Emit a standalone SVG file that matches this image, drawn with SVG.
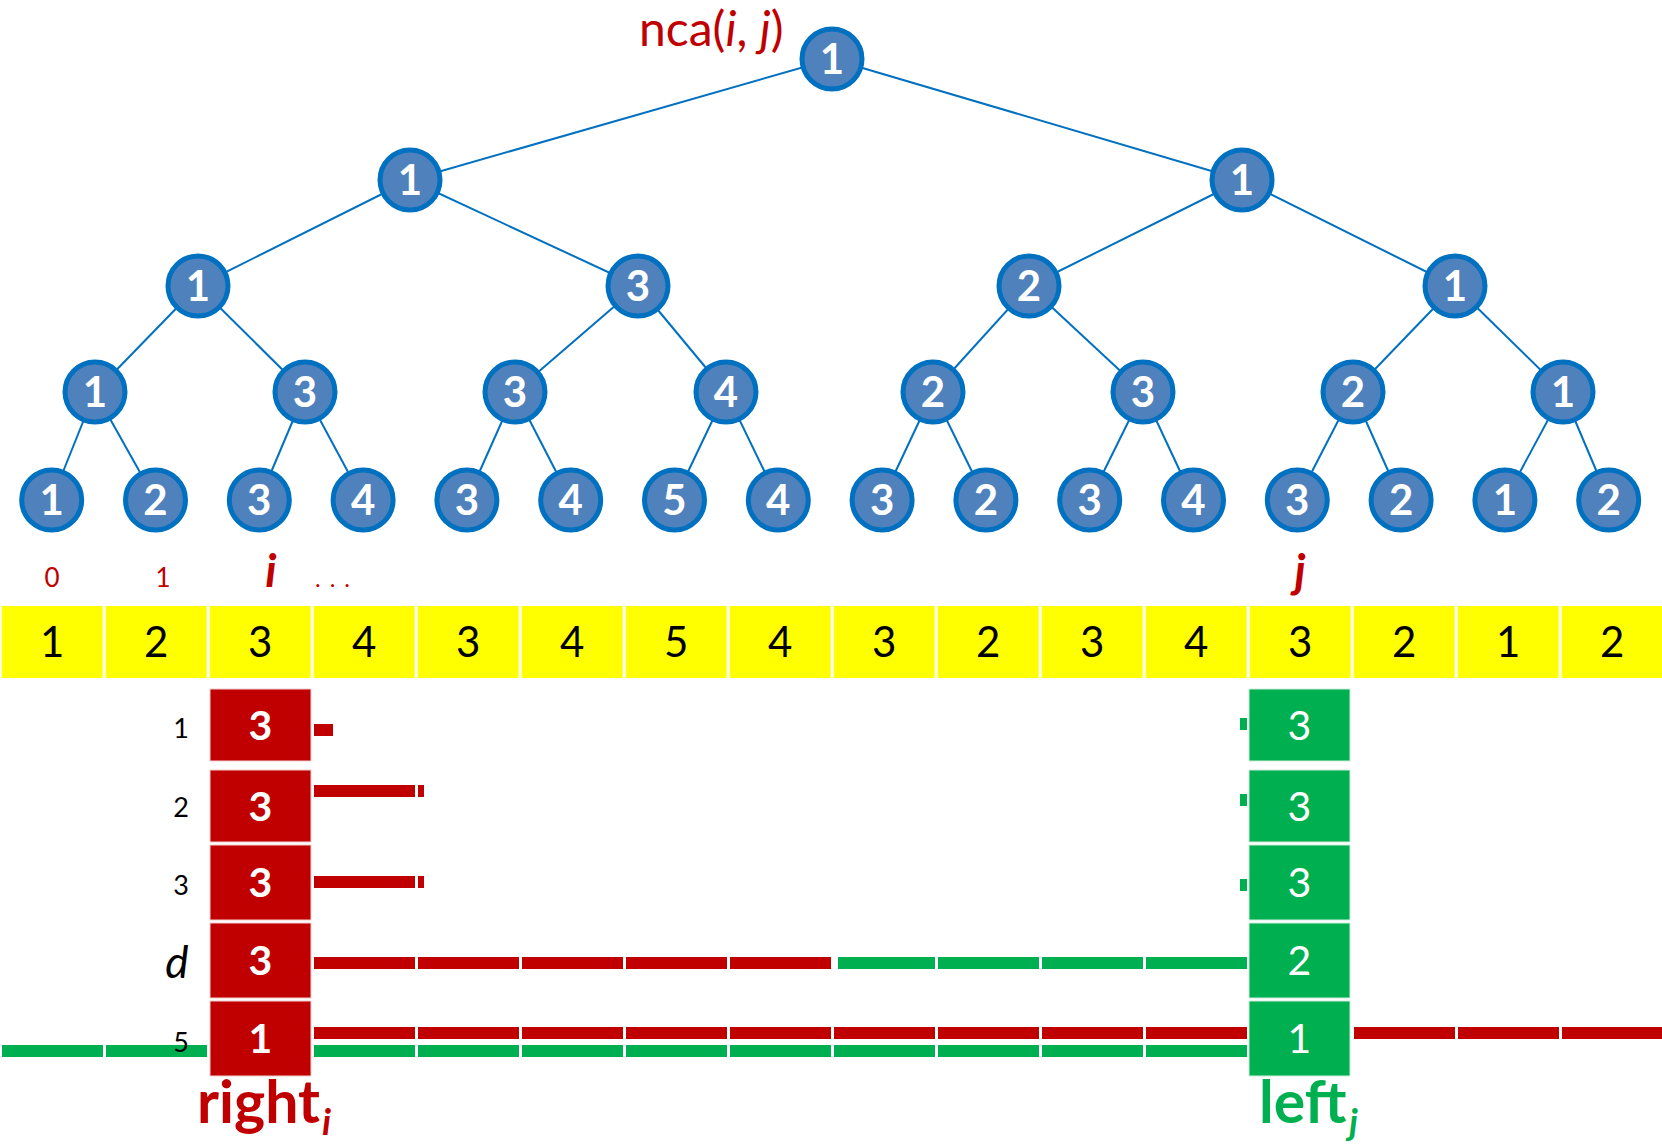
<svg xmlns="http://www.w3.org/2000/svg" width="1662" height="1146" viewBox="0 0 1662 1146">
  <style>
    text { font-family: Lato, "Open Sans", "Liberation Sans", sans-serif; }
    .edge { stroke: #0070C0; stroke-width: 2; fill: none; }
    .node circle { fill: #4F81BD; stroke: #0070C0; stroke-width: 5; }
    .node text { fill: #fff; font-weight: bold; font-size: 42px; text-anchor: middle; }
    .cell rect { fill: #FFFF00; }
    .cell text { fill: #000; font-size: 42px; text-anchor: middle; }
    .rbox rect { fill: #C00000; stroke: #f4d0d0; stroke-width: 1; }
    .rbox text { fill: #fff; font-weight: bold; font-size: 41px; text-anchor: middle; }
    .gbox rect { fill: #00B050; stroke: #cdeedb; stroke-width: 1; }
    .gbox text { fill: #fff; font-size: 41px; text-anchor: middle; }
    .rb { fill: #C00000; }
    .gb { fill: #00B050; }
    .idx { fill: #C00000; font-size: 26px; text-anchor: middle; }
    .row { fill: #000; font-size: 27px; text-anchor: middle; }
  </style>

  <!-- tree edges -->
  <g id="connectors">
    <line class="edge" x1="832" y1="59" x2="410" y2="180"/>
    <line class="edge" x1="832" y1="59" x2="1242" y2="180"/>
    <line class="edge" x1="410" y1="180" x2="198" y2="286"/>
    <line class="edge" x1="410" y1="180" x2="638" y2="286"/>
    <line class="edge" x1="1242" y1="180" x2="1029" y2="286"/>
    <line class="edge" x1="1242" y1="180" x2="1455" y2="286"/>
    <line class="edge" x1="198" y1="286" x2="95" y2="392"/>
    <line class="edge" x1="198" y1="286" x2="305" y2="392"/>
    <line class="edge" x1="638" y1="286" x2="515" y2="392"/>
    <line class="edge" x1="638" y1="286" x2="726" y2="392"/>
    <line class="edge" x1="1029" y1="286" x2="933" y2="392"/>
    <line class="edge" x1="1029" y1="286" x2="1143" y2="392"/>
    <line class="edge" x1="1455" y1="286" x2="1353" y2="392"/>
    <line class="edge" x1="1455" y1="286" x2="1563" y2="392"/>
    <line class="edge" x1="95" y1="392" x2="51.7" y2="500"/>
    <line class="edge" x1="95" y1="392" x2="155.5" y2="500"/>
    <line class="edge" x1="305" y1="392" x2="259.3" y2="500"/>
    <line class="edge" x1="305" y1="392" x2="363.1" y2="500"/>
    <line class="edge" x1="515" y1="392" x2="466.9" y2="500"/>
    <line class="edge" x1="515" y1="392" x2="570.7" y2="500"/>
    <line class="edge" x1="726" y1="392" x2="674.5" y2="500"/>
    <line class="edge" x1="726" y1="392" x2="778.3" y2="500"/>
    <line class="edge" x1="933" y1="392" x2="882.1" y2="500"/>
    <line class="edge" x1="933" y1="392" x2="985.9" y2="500"/>
    <line class="edge" x1="1143" y1="392" x2="1089.7" y2="500"/>
    <line class="edge" x1="1143" y1="392" x2="1193.5" y2="500"/>
    <line class="edge" x1="1353" y1="392" x2="1297.3" y2="500"/>
    <line class="edge" x1="1353" y1="392" x2="1401.1" y2="500"/>
    <line class="edge" x1="1563" y1="392" x2="1504.9" y2="500"/>
    <line class="edge" x1="1563" y1="392" x2="1608.7" y2="500"/>
  </g>

  <!-- tree nodes -->
  <g id="n-root" class="node"><circle cx="832" cy="59" r="30"/><text x="832" y="74">1</text></g>
  <g id="n-l1-0" class="node"><circle cx="410" cy="180" r="30"/><text x="410" y="195">1</text></g>
  <g id="n-l1-1" class="node"><circle cx="1242" cy="180" r="30"/><text x="1242" y="195">1</text></g>
  <g id="n-l2-0" class="node"><circle cx="198" cy="286" r="30"/><text x="198" y="301">1</text></g>
  <g id="n-l2-1" class="node"><circle cx="638" cy="286" r="30"/><text x="638" y="301">3</text></g>
  <g id="n-l2-2" class="node"><circle cx="1029" cy="286" r="30"/><text x="1029" y="301">2</text></g>
  <g id="n-l2-3" class="node"><circle cx="1455" cy="286" r="30"/><text x="1455" y="301">1</text></g>
  <g id="n-l3-0" class="node"><circle cx="95" cy="392" r="30"/><text x="95" y="407">1</text></g>
  <g id="n-l3-1" class="node"><circle cx="305" cy="392" r="30"/><text x="305" y="407">3</text></g>
  <g id="n-l3-2" class="node"><circle cx="515" cy="392" r="30"/><text x="515" y="407">3</text></g>
  <g id="n-l3-3" class="node"><circle cx="726" cy="392" r="30"/><text x="726" y="407">4</text></g>
  <g id="n-l3-4" class="node"><circle cx="933" cy="392" r="30"/><text x="933" y="407">2</text></g>
  <g id="n-l3-5" class="node"><circle cx="1143" cy="392" r="30"/><text x="1143" y="407">3</text></g>
  <g id="n-l3-6" class="node"><circle cx="1353" cy="392" r="30"/><text x="1353" y="407">2</text></g>
  <g id="n-l3-7" class="node"><circle cx="1563" cy="392" r="30"/><text x="1563" y="407">1</text></g>
  <g id="leaf-0" class="node"><circle cx="51.7" cy="500" r="30"/><text x="51.7" y="515">1</text></g>
  <g id="leaf-1" class="node"><circle cx="155.5" cy="500" r="30"/><text x="155.5" y="515">2</text></g>
  <g id="leaf-2" class="node"><circle cx="259.3" cy="500" r="30"/><text x="259.3" y="515">3</text></g>
  <g id="leaf-3" class="node"><circle cx="363.1" cy="500" r="30"/><text x="363.1" y="515">4</text></g>
  <g id="leaf-4" class="node"><circle cx="466.9" cy="500" r="30"/><text x="466.9" y="515">3</text></g>
  <g id="leaf-5" class="node"><circle cx="570.7" cy="500" r="30"/><text x="570.7" y="515">4</text></g>
  <g id="leaf-6" class="node"><circle cx="674.5" cy="500" r="30"/><text x="674.5" y="515">5</text></g>
  <g id="leaf-7" class="node"><circle cx="778.3" cy="500" r="30"/><text x="778.3" y="515">4</text></g>
  <g id="leaf-8" class="node"><circle cx="882.1" cy="500" r="30"/><text x="882.1" y="515">3</text></g>
  <g id="leaf-9" class="node"><circle cx="985.9" cy="500" r="30"/><text x="985.9" y="515">2</text></g>
  <g id="leaf-10" class="node"><circle cx="1089.7" cy="500" r="30"/><text x="1089.7" y="515">3</text></g>
  <g id="leaf-11" class="node"><circle cx="1193.5" cy="500" r="30"/><text x="1193.5" y="515">4</text></g>
  <g id="leaf-12" class="node"><circle cx="1297.3" cy="500" r="30"/><text x="1297.3" y="515">3</text></g>
  <g id="leaf-13" class="node"><circle cx="1401.1" cy="500" r="30"/><text x="1401.1" y="515">2</text></g>
  <g id="leaf-14" class="node"><circle cx="1504.9" cy="500" r="30"/><text x="1504.9" y="515">1</text></g>
  <g id="leaf-15" class="node"><circle cx="1608.7" cy="500" r="30"/><text x="1608.7" y="515">2</text></g>

  <!-- root label -->
  <text id="nca-label" x="639" y="46" font-size="48" fill="#C00000">nca(<tspan font-style="italic">i</tspan>, <tspan font-style="italic">j</tspan>)</text>

  <!-- index labels above the array -->
  <g id="indices">
    <text class="idx" x="52" y="587">0</text>
    <text class="idx" x="163" y="587">1</text>
    <text x="271" y="587" font-size="46" font-weight="bold" font-style="italic" fill="#C00000" text-anchor="middle">i</text>
    <text x="315" y="587" font-size="24" fill="#C00000" letter-spacing="9">...</text>
    <text x="1300" y="587" font-size="46" font-weight="bold" font-style="italic" fill="#C00000" text-anchor="middle">j</text>
  </g>

  <!-- array of leaf depths -->
  <g id="array">
    <g class="cell"><rect x="1.7" y="606" width="101" height="72"/><text x="52.2" y="657">1</text></g>
    <g class="cell"><rect x="105.7" y="606" width="101" height="72"/><text x="156.2" y="657">2</text></g>
    <g class="cell"><rect x="209.7" y="606" width="101" height="72"/><text x="260.2" y="657">3</text></g>
    <g class="cell"><rect x="313.7" y="606" width="101" height="72"/><text x="364.2" y="657">4</text></g>
    <g class="cell"><rect x="417.7" y="606" width="101" height="72"/><text x="468.2" y="657">3</text></g>
    <g class="cell"><rect x="521.7" y="606" width="101" height="72"/><text x="572.2" y="657">4</text></g>
    <g class="cell"><rect x="625.7" y="606" width="101" height="72"/><text x="676.2" y="657">5</text></g>
    <g class="cell"><rect x="729.7" y="606" width="101" height="72"/><text x="780.2" y="657">4</text></g>
    <g class="cell"><rect x="833.7" y="606" width="101" height="72"/><text x="884.2" y="657">3</text></g>
    <g class="cell"><rect x="937.7" y="606" width="101" height="72"/><text x="988.2" y="657">2</text></g>
    <g class="cell"><rect x="1041.7" y="606" width="101" height="72"/><text x="1092.2" y="657">3</text></g>
    <g class="cell"><rect x="1145.7" y="606" width="101" height="72"/><text x="1196.2" y="657">4</text></g>
    <g class="cell"><rect x="1249.7" y="606" width="101" height="72"/><text x="1300.2" y="657">3</text></g>
    <g class="cell"><rect x="1353.7" y="606" width="101" height="72"/><text x="1404.2" y="657">2</text></g>
    <g class="cell"><rect x="1457.7" y="606" width="101" height="72"/><text x="1508.2" y="657">1</text></g>
    <g class="cell"><rect x="1561.7" y="606" width="101" height="72"/><text x="1612.2" y="657">2</text></g>
  </g>

  <!-- range bars -->
  <g id="bars">
    <!-- row 1 -->
    <rect class="rb" x="314" y="724" width="19" height="12"/>
    <rect class="gb" x="1240" y="718" width="7" height="12"/>
    <!-- row 2 -->
    <rect class="rb" x="314" y="785" width="101" height="12"/>
    <rect class="rb" x="418" y="785" width="6" height="12"/>
    <rect class="gb" x="1240" y="794" width="7" height="12"/>
    <!-- row 3 -->
    <rect class="rb" x="314" y="876" width="101" height="12"/>
    <rect class="rb" x="418" y="876" width="6" height="12"/>
    <rect class="gb" x="1240" y="879" width="7" height="12"/>
    <!-- row d -->
    <rect class="rb" x="314" y="957" width="101" height="12"/>
    <rect class="rb" x="418" y="957" width="101" height="12"/>
    <rect class="rb" x="522" y="957" width="101" height="12"/>
    <rect class="rb" x="626" y="957" width="101" height="12"/>
    <rect class="rb" x="730" y="957" width="101" height="12"/>
    <rect class="gb" x="838" y="957" width="97" height="12"/>
    <rect class="gb" x="938" y="957" width="101" height="12"/>
    <rect class="gb" x="1042" y="957" width="101" height="12"/>
    <rect class="gb" x="1146" y="957" width="101" height="12"/>
    <!-- row 5, red -->
    <rect class="rb" x="314" y="1027" width="101" height="12"/>
    <rect class="rb" x="418" y="1027" width="101" height="12"/>
    <rect class="rb" x="522" y="1027" width="101" height="12"/>
    <rect class="rb" x="626" y="1027" width="101" height="12"/>
    <rect class="rb" x="730" y="1027" width="101" height="12"/>
    <rect class="rb" x="834" y="1027" width="101" height="12"/>
    <rect class="rb" x="938" y="1027" width="101" height="12"/>
    <rect class="rb" x="1042" y="1027" width="101" height="12"/>
    <rect class="rb" x="1146" y="1027" width="101" height="12"/>
    <rect class="rb" x="1354" y="1027" width="101" height="12"/>
    <rect class="rb" x="1458" y="1027" width="101" height="12"/>
    <rect class="rb" x="1562" y="1027" width="100" height="12"/>
    <!-- row 5, green -->
    <rect class="gb" x="2" y="1045" width="101" height="12"/>
    <rect class="gb" x="106" y="1045" width="101" height="12"/>
    <rect class="gb" x="314" y="1045" width="101" height="12"/>
    <rect class="gb" x="418" y="1045" width="101" height="12"/>
    <rect class="gb" x="522" y="1045" width="101" height="12"/>
    <rect class="gb" x="626" y="1045" width="101" height="12"/>
    <rect class="gb" x="730" y="1045" width="101" height="12"/>
    <rect class="gb" x="834" y="1045" width="101" height="12"/>
    <rect class="gb" x="938" y="1045" width="101" height="12"/>
    <rect class="gb" x="1042" y="1045" width="101" height="12"/>
    <rect class="gb" x="1146" y="1045" width="101" height="12"/>
  </g>

  <!-- right_i column -->
  <g id="right-col">
    <g class="rbox"><rect x="210" y="689" width="101" height="72"/><text x="260.5" y="740">3</text></g>
    <g class="rbox"><rect x="210" y="770" width="101" height="72"/><text x="260.5" y="821">3</text></g>
    <g class="rbox"><rect x="210" y="845" width="101" height="75"/><text x="260.5" y="897">3</text></g>
    <g class="rbox"><rect x="210" y="923" width="101" height="75"/><text x="260.5" y="975">3</text></g>
    <g class="rbox"><rect x="210" y="1001" width="101" height="75"/><text x="260.5" y="1053">1</text></g>
  </g>

  <!-- left_j column -->
  <g id="left-col">
    <g class="gbox"><rect x="1249" y="689" width="101" height="72"/><text x="1299.5" y="740">3</text></g>
    <g class="gbox"><rect x="1249" y="770" width="101" height="72"/><text x="1299.5" y="821">3</text></g>
    <g class="gbox"><rect x="1249" y="845" width="101" height="75"/><text x="1299.5" y="897">3</text></g>
    <g class="gbox"><rect x="1249" y="923" width="101" height="75"/><text x="1299.5" y="975">2</text></g>
    <g class="gbox"><rect x="1249" y="1001" width="101" height="75"/><text x="1299.5" y="1053">1</text></g>
  </g>

  <!-- level labels -->
  <g id="levels">
    <text class="row" x="181" y="738">1</text>
    <text class="row" x="181" y="817">2</text>
    <text class="row" x="181" y="895">3</text>
    <text x="177" y="978" font-size="44" font-style="italic" fill="#000" text-anchor="middle">d</text>
    <text class="row" x="181" y="1052">5</text>
  </g>

  <!-- column captions -->
  <g id="captions">
    <text x="197" y="1123" font-size="59" font-weight="bold" fill="#C00000">right</text>
    <text x="322" y="1135" font-size="37" font-weight="bold" font-style="italic" fill="#C00000">i</text>
    <text x="1259" y="1123" font-size="59" font-weight="bold" fill="#00B050">left</text>
    <text x="1349" y="1135" font-size="37" font-weight="bold" font-style="italic" fill="#00B050">j</text>
  </g>
</svg>
